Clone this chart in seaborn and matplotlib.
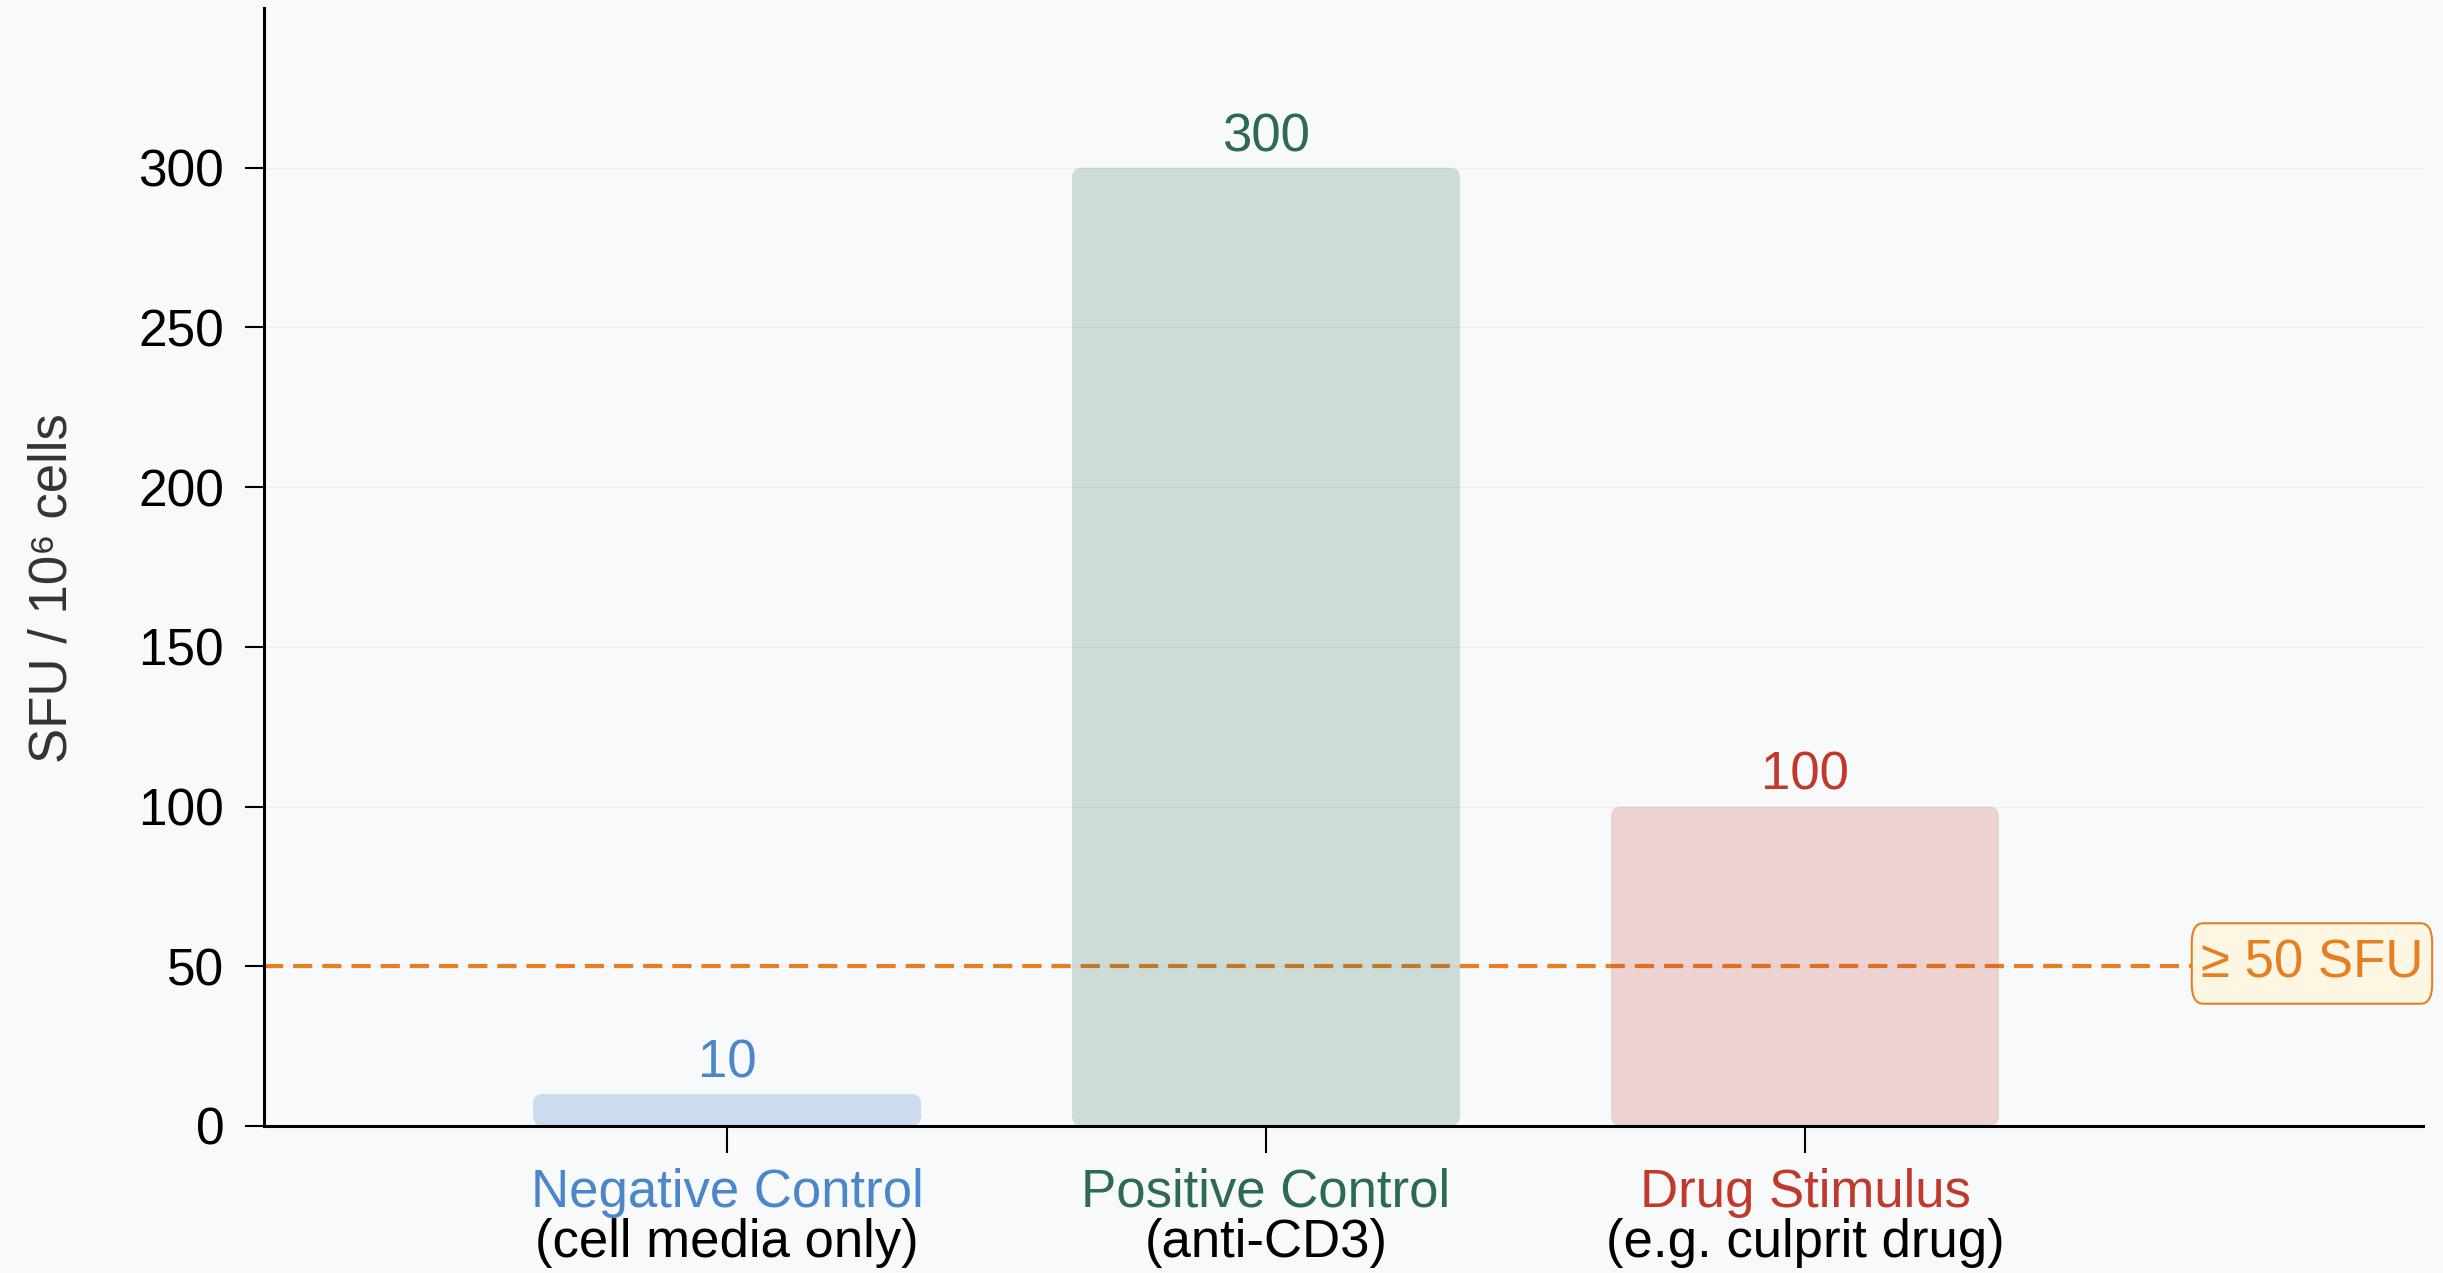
import numpy as np
import pandas as pd
import matplotlib
matplotlib.use("Agg")
import matplotlib.pyplot as plt
import matplotlib.transforms as mtransforms
from matplotlib.patches import FancyBboxPatch
import seaborn as sns

categories = ["Negative Control", "Positive Control", "Drug Stimulus"]
subtitles = ["(cell media only)", "(anti-CD3)", "(e.g. culprit drug)"]
sfu = [10, 300, 100]
threshold = 50
threshold_label = "≥ 50 SFU"
yticks = [0, 50, 100, 150, 200, 250, 300]

colors = ["#4a86c8", "#2d6a4f", "#c0392b"]
bar_alpha = [0.25, 0.2, 0.2]
bg = "#f7f9fb"
orange = "#e67e22"

sns.set_style("ticks")
plt.rcParams["font.family"] = ["Liberation Sans", "DejaVu Sans"]

df = pd.DataFrame({"group": categories, "sfu": sfu})

fig = plt.figure(figsize=(24.43, 12.73), dpi=100, facecolor=bg)
ax = fig.add_axes([0.1081, 0.1155, 0.8838, 0.8782])
ax.set_facecolor(bg)

sns.barplot(data=df, x="group", y="sfu", hue="group", palette=colors,
            width=0.72, saturation=1, legend=False, ax=ax, zorder=2)

ax.set_xlim(-0.859, 3.147)
ax.set_ylim(0, 350)

# faint horizontal grid
ax.set_axisbelow(True)
ax.yaxis.grid(True, color="#eceef0", lw=0.8)
ax.xaxis.grid(False)

# swap the plain rectangles for rounded ones
sx = ax.transData.transform((1, 0))[0] - ax.transData.transform((0, 0))[0]
sy = ax.transData.transform((0, 1))[1] - ax.transData.transform((0, 0))[1]
r_px = 10
for patch, col, a in zip(list(ax.patches), colors, bar_alpha):
    rb = FancyBboxPatch((patch.get_x(), patch.get_y()), patch.get_width(), patch.get_height(),
                        boxstyle=f"round,pad=0,rounding_size={r_px / sx}",
                        mutation_aspect=sx / sy, fc=col, alpha=a, ec="none", zorder=2)
    patch.remove()
    ax.add_patch(rb)

# value labels
for i, v in enumerate(sfu):
    ax.annotate(str(v), (i, v), xytext=(0, 12), textcoords="offset points",
                ha="center", va="baseline", fontsize=38, color=colors[i])

# threshold line + tag
ax.axhline(threshold, color=orange, lw=3, ls=(0, (4.6, 2.4)), zorder=1.5)
trans = mtransforms.blended_transform_factory(ax.transAxes, ax.transData)
ax.annotate(threshold_label, xy=(1.0, threshold), xycoords=trans, xytext=(0, 2),
            textcoords="offset points", ha="right", va="center", fontsize=38, color=orange,
            bbox=dict(boxstyle="round,pad=0.17,rounding_size=0.22", fc="#fdf6e3", ec=orange,
                      lw=1.5, mutation_aspect=1.7),
            zorder=5, annotation_clip=False)

# axes styling
sns.despine(ax=ax)
for s in ["left", "bottom"]:
    ax.spines[s].set_linewidth(2.2)
    ax.spines[s].set_color("black")

ax.set_yticks(yticks)
ax.tick_params(axis="y", length=13.7, width=1.5, pad=15, labelsize=37,
               color="black", labelcolor="black")
ax.yaxis.get_major_ticks()[4].tick1line.set_color("#999999")
ax.set_xticks(range(len(categories)))
ax.set_xticklabels([""] * len(categories))
ax.tick_params(axis="x", length=19.4, width=1.5, color="black")

ax.set_xlabel("")
ax.set_ylabel("SFU / 10⁶ cells", fontsize=38, color="#333333")
ax.yaxis.set_label_coords(-0.0862, 0.481)

# two-line category labels
xtr = ax.get_xaxis_transform()
for i, (cat, sub) in enumerate(zip(categories, subtitles)):
    ax.annotate(cat, xy=(i, 0), xycoords=xtr, xytext=(0, -58.3), textcoords="offset points",
                ha="center", va="baseline", fontsize=38, color=colors[i], annotation_clip=False)
    ax.annotate(sub, xy=(i, 0), xycoords=xtr, xytext=(0, -94.3), textcoords="offset points",
                ha="center", va="baseline", fontsize=38, color="black", annotation_clip=False)

fig.savefig("out.png", dpi=100, facecolor=bg)
